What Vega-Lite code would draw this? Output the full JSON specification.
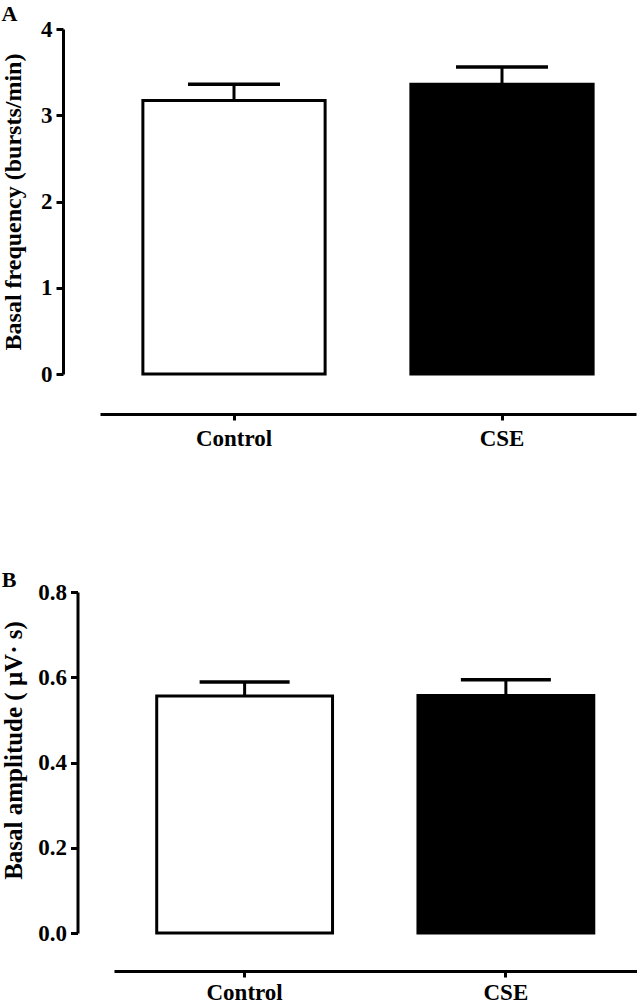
{
  "$schema": "https://vega.github.io/schema/vega-lite/v6.json",
  "padding": {"left": 1, "top": 3, "right": 0, "bottom": 0},
  "background": "white",
  "config": {
    "view": {"stroke": null},
    "font": "Liberation Serif",
    "axis": {
      "labelFont": "Liberation Serif", "labelFontWeight": "bold", "labelFontSize": 23, "labelColor": "black",
      "titleFont": "Liberation Serif", "titleFontWeight": "bold", "titleFontSize": 24, "titleColor": "black",
      "domainColor": "black", "domainWidth": 3, "tickColor": "black", "tickWidth": 3, "grid": false
    },
    "title": {"font": "Liberation Serif", "fontWeight": "bold", "fontSize": 22, "color": "black", "anchor": "start", "frame": "bounds"}
  },
  "spacing": 119,
  "align": "none",
  "vconcat": [
    {
      "title": {"text": "A", "offset": -8},
      "width": 536,
      "height": 345,
      "data": {"values": [
        {"group": "Control", "mean": 3.17, "upper": 3.36},
        {"group": "CSE", "mean": 3.36, "upper": 3.56}
      ]},
      "encoding": {
        "x": {"field": "group", "type": "nominal", "sort": ["Control", "CSE"],
          "scale": {"paddingInner": 0.32, "paddingOuter": 0.16},
          "axis": {"title": null, "labelAngle": 0, "offset": 40, "tickSize": 6, "labelPadding": 7}}
      },
      "layer": [
        {
          "mark": {"type": "bar", "stroke": "black", "strokeWidth": 3},
          "encoding": {
            "y": {"field": "mean", "type": "quantitative", "scale": {"domain": [0, 4]},
              "axis": {"title": "Basal frequency (bursts/min)", "values": [0, 1, 2, 3, 4], "format": "d", "offset": 37, "tickSize": 7, "labelPadding": 4, "titlePadding": 15}},
            "fill": {"field": "group", "type": "nominal", "scale": {"domain": ["Control", "CSE"], "range": ["white", "black"]}, "legend": null}
          }
        },
        {
          "mark": {"type": "rule", "strokeWidth": 3, "color": "black", "opacity": 1},
          "encoding": {"y": {"field": "mean", "type": "quantitative"}, "y2": {"field": "upper"}}
        },
        {
          "mark": {"type": "tick", "size": 92, "thickness": 3.5, "color": "black", "opacity": 1},
          "encoding": {"y": {"field": "upper", "type": "quantitative"}}
        }
      ]
    },
    {
      "title": {"text": "B", "offset": -11},
      "width": 537,
      "height": 341,
      "data": {"values": [
        {"group": "Control", "mean": 0.556, "upper": 0.589},
        {"group": "CSE", "mean": 0.557, "upper": 0.594}
      ]},
      "encoding": {
        "x": {"field": "group", "type": "nominal", "sort": ["Control", "CSE"],
          "scale": {"range": [14, 536.5], "paddingInner": 0.327, "paddingOuter": 0.1635},
          "axis": {"title": null, "labelAngle": 0, "offset": 38, "tickSize": 6, "labelPadding": 4}}
      },
      "layer": [
        {
          "mark": {"type": "bar", "stroke": "black", "strokeWidth": 3},
          "encoding": {
            "y": {"field": "mean", "type": "quantitative", "scale": {"domain": [0, 0.8]},
              "axis": {"title": "Basal amplitude ( μV· s)", "titleFontSize": 25, "titleY": 158, "values": [0, 0.2, 0.4, 0.6, 0.8], "format": ".1f", "offset": 22.5, "tickSize": 7, "labelPadding": 4, "titlePadding": 11}},
            "fill": {"field": "group", "type": "nominal", "scale": {"domain": ["Control", "CSE"], "range": ["white", "black"]}, "legend": null}
          }
        },
        {
          "mark": {"type": "rule", "strokeWidth": 3, "color": "black", "opacity": 1},
          "encoding": {"y": {"field": "mean", "type": "quantitative"}, "y2": {"field": "upper"}}
        },
        {
          "mark": {"type": "tick", "size": 90, "thickness": 3.5, "color": "black", "opacity": 1},
          "encoding": {"y": {"field": "upper", "type": "quantitative"}}
        }
      ]
    }
  ]
}
